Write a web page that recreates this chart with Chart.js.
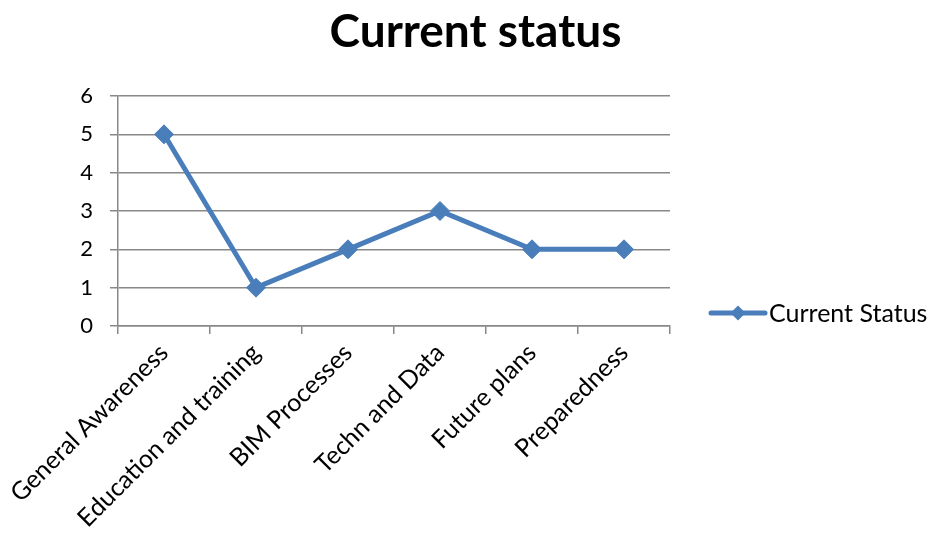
<!DOCTYPE html>
<html>
<head>
<meta charset="utf-8">
<script src="https://cdn.jsdelivr.net/npm/chart.js@4/dist/chart.umd.min.js"></script>
<style>
  html, body { margin: 0; padding: 0; background: #fff; }
  #wrap { width: 931px; height: 536px; }
</style>
</head>
<body>
<div id="wrap"><canvas id="c" width="931" height="536"></canvas></div>
<script>
const categories = ['General Awareness', 'Education and training', 'BIM Processes', 'Techn and Data', 'Future plans', 'Preparedness'];
const seriesName = 'Current Status';
const statusValues = [5, 1, 2, 3, 2, 2];
const yTicks = [0, 1, 2, 3, 4, 5, 6];

const FONT = 'Lato, "Open Sans", sans-serif';
const LINE_COLOR = '#4A7EBB';
const GRID_COLOR = '#888888';

// Legend entry on the right: line sample with a diamond, then the series name
const sideLegend = {
  id: 'sideLegend',
  afterDraw(chart) {
    const { ctx, chartArea } = chart;
    const y = 313;
    const x0 = chartArea.right + 41;
    const x1 = x0 + 54;
    ctx.save();
    ctx.strokeStyle = LINE_COLOR;
    ctx.lineWidth = 5;
    ctx.lineCap = 'round';
    ctx.beginPath();
    ctx.moveTo(x0, y);
    ctx.lineTo(x1, y);
    ctx.stroke();
    const cx = (x0 + x1) / 2, r = 7.5;
    ctx.fillStyle = LINE_COLOR;
    ctx.beginPath();
    ctx.moveTo(cx, y - r);
    ctx.lineTo(cx + r, y);
    ctx.lineTo(cx, y + r);
    ctx.lineTo(cx - r, y);
    ctx.closePath();
    ctx.fill();
    ctx.fillStyle = '#000';
    ctx.font = '25px ' + FONT;
    ctx.textAlign = 'left';
    ctx.textBaseline = 'middle';
    ctx.fillText(seriesName, x1 + 4, y + 1);
    ctx.restore();
  }
};

new Chart(document.getElementById('c'), {
  type: 'line',
  data: {
    labels: categories,
    datasets: [{
      label: seriesName,
      data: statusValues,
      borderColor: LINE_COLOR,
      backgroundColor: LINE_COLOR,
      borderWidth: 5,
      pointStyle: 'rectRot',
      pointRadius: 9.5,
      pointHoverRadius: 9.5,
      pointBorderWidth: 1,
      tension: 0
    }]
  },
  options: {
    responsive: false,
    animation: false,
    events: [],
    layout: { padding: { left: 20, right: 0, top: 0, bottom: 0 } },
    plugins: {
      legend: { display: false },
      tooltip: { enabled: false },
      title: {
        display: true,
        text: 'Current status',
        color: '#000',
        font: { family: FONT, size: 46, weight: 'bold' },
        padding: { top: 5, bottom: 35.8 }
      }
    },
    scales: {
      x: {
        offset: true,
        grid: {
          offset: true,
          drawOnChartArea: false,
          drawTicks: true,
          tickLength: 8,
          color: GRID_COLOR,
          lineWidth: 1.5
        },
        border: { display: true, color: GRID_COLOR, width: 1.5 },
        ticks: {
          color: '#000',
          font: { family: FONT, size: 25 },
          minRotation: 45,
          maxRotation: 45,
          padding: 4,
          autoSkip: false
        },
        afterFit(s) { s.height = 210; }
      },
      y: {
        min: 0,
        max: 6,
        afterBuildTicks(s) { s.ticks = yTicks.map(v => ({ value: v })); },
        grid: {
          color: GRID_COLOR,
          lineWidth: 1.5,
          tickLength: 8
        },
        border: { display: true, color: GRID_COLOR, width: 1.5 },
        ticks: {
          color: '#000',
          font: { family: FONT, size: 22 },
          padding: 17
        },
        afterFit(s) { s.width = 98; }
      },
      side: {
        type: 'linear',
        position: 'right',
        display: true,
        grid: { display: false },
        border: { display: false },
        ticks: { display: false },
        afterFit(s) { s.width = 261; }
      }
    }
  },
  plugins: [sideLegend]
});
</script>
</body>
</html>
